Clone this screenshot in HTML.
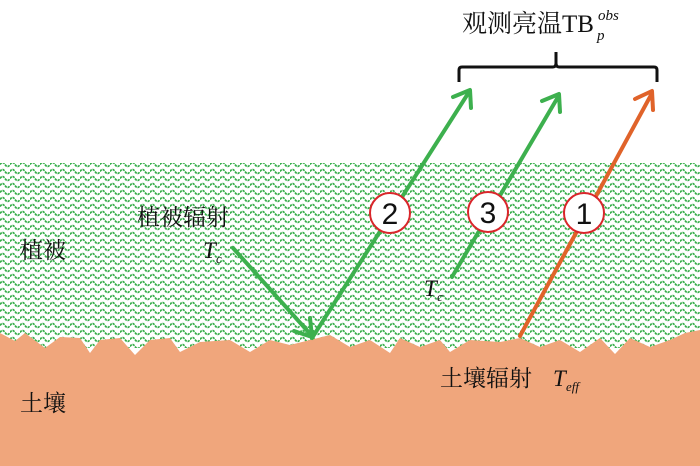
<!DOCTYPE html>
<html><head><meta charset="utf-8"><style>
html,body{margin:0;padding:0;background:#fff;}
svg{display:block;}
text{font-family:"Liberation Serif","Noto Serif CJK SC","Noto Sans CJK SC",serif;fill:#111;}
</style></head><body>
<svg width="700" height="466" viewBox="0 0 700 466" xmlns="http://www.w3.org/2000/svg">
<defs>
<pattern id="w" width="10" height="7" patternUnits="userSpaceOnUse">
<path d="M0,3.5 Q2.5,-0.5 5,3.5 T10,3.5" fill="none" stroke="#36ad4a" stroke-width="1.7" stroke-dasharray="2.5 0.8"/>
</pattern>
</defs>
<rect x="0" y="163" width="700" height="185" fill="url(#w)"/>
<polygon fill="#f0a67c" points="0,333 15,341 25,333 45,348 60,337 80,338 90,353 100,340 120,338 135,355 150,340 170,338 180,352 200,342 230,340 250,352 270,340 290,345 310,340 330,335 350,347 370,340 390,353 400,338 420,347 440,340 450,352 470,340 500,342 520,338 540,347 560,340 580,352 600,338 615,354 630,338 650,347 670,340 685,333 700,330 700,466 0,466"/>
<path d="M459,82 L459,70 Q459,67 462,67 L553,67 Q556,67 556,63 L556,52 M556,63 Q556,67 559,67 L654,67 Q657,67 657,70 L657,82" fill="none" stroke="#111" stroke-width="3"/>
<g stroke="#3db04e" stroke-width="4" fill="none" stroke-linecap="round" stroke-linejoin="round">
<line x1="233" y1="248" x2="312" y2="336"/>
<path d="M294,331 L312,337 L310,318"/>
<line x1="312" y1="338" x2="469" y2="92"/>
<path d="M453,97 L470,90 L471,108"/>
<line x1="452" y1="277" x2="558" y2="97"/>
<path d="M542,101 L559,94 L560,112"/>
</g>
<g stroke="#e0632a" stroke-width="4" fill="none" stroke-linecap="round" stroke-linejoin="round">
<line x1="520" y1="336" x2="651" y2="95"/>
<path d="M635,99 L652,91 L653,110"/>
</g>
<g fill="#fff" stroke="#d9262b" stroke-width="2">
<circle cx="390" cy="213" r="20"/><circle cx="488" cy="212" r="20"/><circle cx="584" cy="213" r="20"/>
</g>
<g font-size="30" text-anchor="middle">
<text x="390" y="224" style="font-family:'Liberation Sans',sans-serif">2</text>
<text x="488" y="223" style="font-family:'Liberation Sans',sans-serif">3</text>
<text x="584" y="224" style="font-family:'Liberation Sans',sans-serif">1</text>
</g>
<text x="462" y="32" font-size="25">观测亮温TB</text>
<text x="598" y="20" font-size="15" font-style="italic">obs</text>
<text x="597" y="40" font-size="15" font-style="italic">p</text>
<text x="20" y="258" font-size="23">植被</text>
<text x="137" y="225" font-size="23">植被辐射</text>
<text x="203" y="258" font-size="23" font-style="italic">T</text><text x="216" y="263" font-size="13" font-style="italic">c</text>
<text x="424" y="296" font-size="23" font-style="italic">T</text><text x="437" y="301" font-size="13" font-style="italic">c</text>
<text x="20" y="411" font-size="23">土壤</text>
<text x="440" y="386" font-size="23">土壤辐射</text>
<text x="553" y="386" font-size="23" font-style="italic">T</text><text x="566" y="391" font-size="13" font-style="italic">eff</text>
</svg>
</body></html>
